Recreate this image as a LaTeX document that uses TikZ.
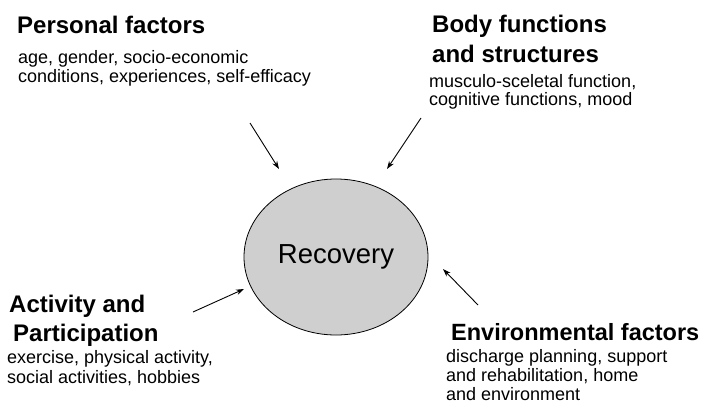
\documentclass[tikz,border=0pt]{standalone}
\usepackage{fontspec}
\setmainfont{Liberation Sans}
\usetikzlibrary{shapes.geometric,arrows.meta}
\tikzset{
  head/.style={anchor=base west,inner sep=0pt,font=\fontsize{24}{28}\selectfont\bfseries},
  sub/.style={anchor=base west,inner sep=0pt,font=\fontsize{18}{20}\selectfont},
  hub/.style={ellipse,draw=black,line width=0.8pt,fill=black!19,minimum width=184pt,minimum height=156pt,inner sep=0pt,font=\fontsize{27.5}{32}\selectfont},
  arr/.style={draw=black,line width=0.9pt,-{Stealth[length=8pt,width=5.5pt]}}
}
\begin{document}
\begin{tikzpicture}[x=1pt,y=-1pt]
\useasboundingbox (0,0) rectangle (705,407);
\node[hub] (rec) at (336,257) {Recovery};
% Personal factors
\node[head] (pf) at (17,33) {Personal factors};
\node[sub] (pf1) at (18,63) {age, gender, socio-economic};
\node[sub] (pf2) at (18,82) {conditions, experiences, self-efficacy};
% Body functions
\node[head] (bf) at (432,32) {Body functions};
\node[head] (bf2) at (432,62) {and structures};
\node[sub] (bf3) at (429,87) {musculo-sceletal function,};
\node[sub] (bf4) at (429,105) {cognitive functions, mood};
% Activity
\node[head] (ap) at (9,312) {Activity and};
\node[head] (ap2) at (13,341) {Participation};
\node[sub] (ap3) at (7,363) {exercise, physical activity,};
\node[sub] (ap4) at (7,383) {social activities, hobbies};
% Environmental
\node[head,font=\fontsize{23.5}{28}\selectfont\bfseries] (ef) at (451,340) {Environmental factors};
\node[sub] (ef1) at (446,362) {discharge planning, support};
\node[sub] (ef2) at (446,381) {and rehabilitation, home};
\node[sub] (ef3) at (446,400) {and environment};
% arrows
\coordinate (a1s) at (250,123); \coordinate (a1e) at (279,169);
\coordinate (a2s) at (421,118); \coordinate (a2e) at (387,169);
\coordinate (a3s) at (193,312); \coordinate (a3e) at (244,289);
\coordinate (a4s) at (478,305); \coordinate (a4e) at (443,269);
\draw[arr] (a1s) -- (a1e);
\draw[arr] (a2s) -- (a2e);
\draw[arr] (a3s) -- (a3e);
\draw[arr] (a4s) -- (a4e);
\end{tikzpicture}
\end{document}
